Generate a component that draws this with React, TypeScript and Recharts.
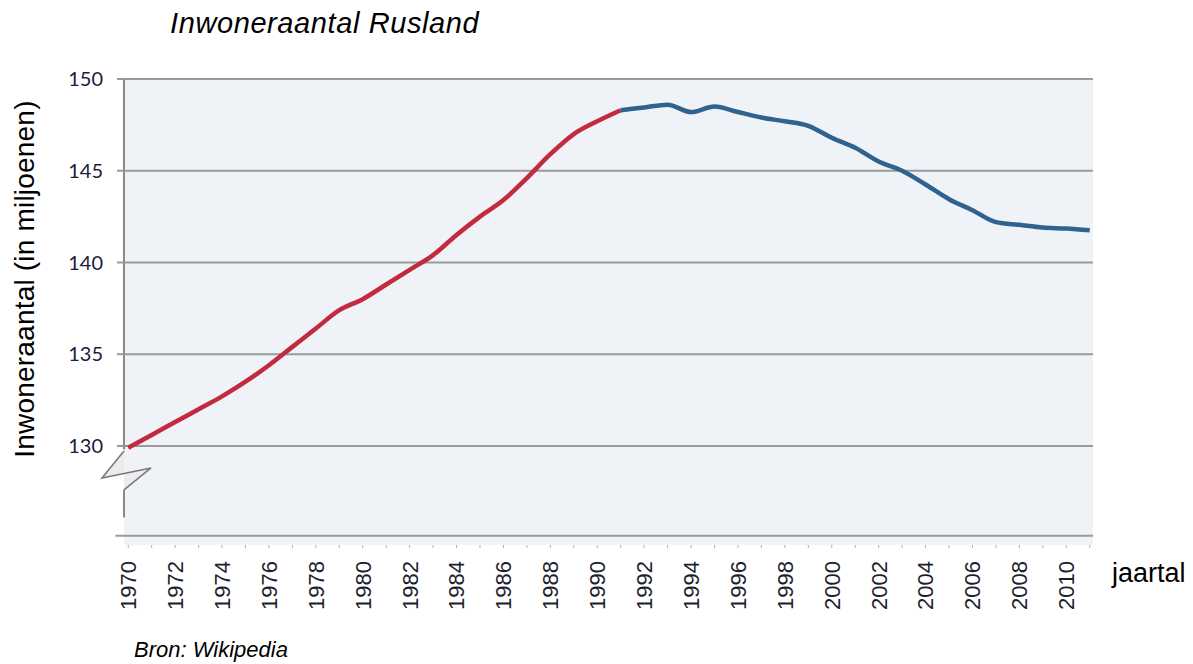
import React from "react";
import {
  LineChart,
  Line,
  XAxis,
  YAxis,
  CartesianGrid,
  ReferenceLine,
  ReferenceDot,
} from "recharts";

const years = [
  1970, 1971, 1972, 1973, 1974, 1975, 1976, 1977, 1978, 1979, 1980, 1981, 1982, 1983,
  1984, 1985, 1986, 1987, 1988, 1989, 1990, 1991, 1992, 1993, 1994, 1995, 1996, 1997,
  1998, 1999, 2000, 2001, 2002, 2003, 2004, 2005, 2006, 2007, 2008, 2009, 2010, 2011,
];
const population = [
  129.9, 130.6, 131.3, 132.0, 132.7, 133.5, 134.4, 135.4, 136.4, 137.4, 138.0, 138.8, 139.6, 140.4,
  141.5, 142.5, 143.4, 144.6, 145.9, 147.0, 147.7, 148.3, 148.45, 148.6, 148.2, 148.5, 148.2, 147.9,
  147.7, 147.45, 146.8, 146.25, 145.5, 145.0, 144.25, 143.45, 142.85, 142.2, 142.05, 141.9, 141.85, 141.75,
];
const splitYear = 1991;
const yTicks = [130, 135, 140, 145, 150];
const labelYears = years.filter((y) => y % 2 === 0);

const title = "Inwoneraantal Rusland";
const yTitle = "Inwoneraantal (in miljoenen)";
const xTitle = "jaartal";
const source = "Bron: Wikipedia";

const data = years.map((year, i) => ({
  year,
  red: year <= splitYear ? population[i] : null,
  blue: year >= splitYear ? population[i] : null,
}));

const X_MIN = 1969.82;
const X_MAX = 2011.14;
const Y_MIN = 124.6;
const Y_MAX = 150;
const AXIS_GRAY = "#9a9a9a";

const XTick = (props: any) => {
  const { x, y, payload } = props;
  if (!labelYears.includes(payload.value)) return null;
  return (
    <text
      x={x}
      y={y}
      transform={`rotate(-90 ${x} ${y})`}
      textAnchor="end"
      dy="0.36em"
      fontSize={22}
      fontFamily="Liberation Sans, Arial, sans-serif"
      fill="#1e1e2e"
    >
      {payload.value}
    </text>
  );
};

const BreakMark = (props: any) => {
  const { cx, cy } = props;
  if (cx == null || cy == null) return null;
  const pts = [
    [cx, cy + 5],
    [cx - 22, cy + 32],
    [cx + 27, cy + 22],
    [cx, cy + 44],
  ];
  const p = pts.map((q) => q.join(",")).join(" ");
  return (
    <g>
      <polygon points={p} fill="#ececec" stroke="none" />
      <polyline points={p} fill="none" stroke="#7a7a7a" strokeWidth={1.6} />
    </g>
  );
};

export default function App() {
  return (
    <div
      style={{
        position: "relative",
        width: 1185,
        height: 656,
        overflow: "hidden",
        fontFamily: "Liberation Sans, Arial, sans-serif",
        color: "#000",
      }}
    >
      <div
        style={{
          position: "absolute",
          left: 162,
          top: 1,
          fontSize: 29,
          letterSpacing: 0.6,
          fontStyle: "italic",
          lineHeight: 1,
          whiteSpace: "nowrap",
        }}
      >
        {title}
      </div>
      <div
        style={{
          position: "absolute",
          left: 17,
          top: 271,
          fontSize: 28,
          letterSpacing: 0.2,
          lineHeight: 1,
          whiteSpace: "nowrap",
          transform: "translate(-50%, -50%) rotate(-90deg)",
        }}
      >
        {yTitle}
      </div>
      <div
        style={{
          position: "absolute",
          left: 1104,
          top: 552,
          fontSize: 27,
          lineHeight: 1,
          whiteSpace: "nowrap",
        }}
      >
        {xTitle}
      </div>
      <div
        style={{
          position: "absolute",
          left: 126,
          top: 631,
          fontSize: 22,
          fontStyle: "italic",
          lineHeight: 1,
          whiteSpace: "nowrap",
        }}
      >
        {source}
      </div>
      <LineChart
        width={1177}
        height={648}
        data={data}
        margin={{ top: 71, right: 92, bottom: 41, left: 56 }}
        style={{ position: "absolute", left: 0, top: 0 }}
      >
        <CartesianGrid
          vertical={false}
          stroke={AXIS_GRAY}
          strokeWidth={2}
          fill="#eff3f8"
          fillOpacity={1}
          horizontalValues={yTicks}
        />
        <XAxis
          dataKey="year"
          type="number"
          domain={[X_MIN, X_MAX]}
          allowDataOverflow
          ticks={years}
          interval={0}
          height={70}
          axisLine={false}
          tickSize={3}
          tickMargin={13}
          tickLine={{ stroke: "#b0b0b0", strokeWidth: 1 }}
          tick={<XTick />}
        />
        <YAxis
          type="number"
          domain={[Y_MIN, Y_MAX]}
          allowDataOverflow
          ticks={yTicks}
          interval={0}
          width={60}
          axisLine={false}
          tickSize={7}
          tickMargin={14}
          tickLine={{ stroke: AXIS_GRAY, strokeWidth: 2 }}
          tick={{
            fontSize: 20,
            fontFamily: "Lato, Open Sans, sans-serif",
            fill: "#1c1c3c",
          }}
        />
        <ReferenceLine
          segment={[
            { x: 1969.45, y: 125.1 },
            { x: X_MAX, y: 125.1 },
          ]}
          stroke={AXIS_GRAY}
          strokeWidth={2}
          ifOverflow="visible"
        />
        <ReferenceLine
          segment={[
            { x: X_MIN, y: Y_MAX },
            { x: X_MIN, y: 129.8 },
          ]}
          stroke="#8a8a8a"
          strokeWidth={2}
          ifOverflow="visible"
        />
        <ReferenceLine
          segment={[
            { x: X_MIN, y: 127.6 },
            { x: X_MIN, y: 126.1 },
          ]}
          stroke="#8a8a8a"
          strokeWidth={2}
          ifOverflow="visible"
        />
        <ReferenceDot
          x={X_MIN}
          y={130}
          r={1}
          ifOverflow="visible"
          shape={<BreakMark />}
        />
        <Line
          type="monotone"
          dataKey="red"
          stroke="#c22a3d"
          strokeWidth={4.5}
          dot={false}
          activeDot={false}
          connectNulls={false}
          isAnimationActive={false}
        />
        <Line
          type="monotone"
          dataKey="blue"
          stroke="#30628f"
          strokeWidth={4.5}
          dot={false}
          activeDot={false}
          connectNulls={false}
          isAnimationActive={false}
        />
      </LineChart>
    </div>
  );
}
